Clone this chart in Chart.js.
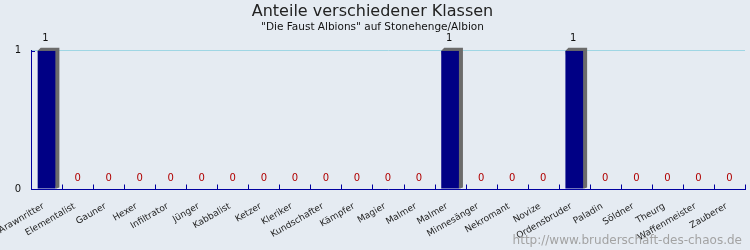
<!DOCTYPE html>
<html lang="de">
<head>
<meta charset="utf-8">
<title>Anteile verschiedener Klassen</title>
<script src="https://cdn.jsdelivr.net/npm/chart.js@4/dist/chart.umd.min.js"></script>
<style>
  html, body { margin: 0; padding: 0; background: #e5ebf2; }
  #wrap { position: relative; width: 750px; height: 250px; }
  #footer {
    position: absolute; right: 8px; bottom: 3px;
    font: 12px "DejaVu Sans", sans-serif; color: #a3a3a3;
  }
</style>
</head>
<body>
<div id="wrap">
  <canvas id="chart" width="750" height="250"></canvas>
  <div id="footer">http://www.bruderschaft-des-chaos.de</div>
</div>
<script>
// Klassen (x-Achse) und Anzahl pro Klasse
const classes = [
  'Arawnritter', 'Elementalist', 'Gauner', 'Hexer', 'Infiltrator', 'Jünger',
  'Kabbalist', 'Ketzer', 'Kleriker', 'Kundschafter', 'Kämpfer', 'Magier',
  'Malmer', 'Malmer', 'Minnesänger', 'Nekromant', 'Novize', 'Ordensbruder',
  'Paladin', 'Söldner', 'Theurg', 'Waffenmeister', 'Zauberer'
];
const counts = [1, 0, 0, 0, 0, 0, 0, 0, 0, 0, 0, 0, 0, 1, 0, 0, 0, 1, 0, 0, 0, 0, 0];
const yTicks = [0, 1];

const FONT = '"DejaVu Sans", sans-serif';
const AXIS_BLUE = '#0000a0';

// grauer 3D-Schatten hinter den Balken, Striche und Werte
const barShadow = {
  id: 'barShadow',
  beforeDatasetsDraw(chart) {
    const ctx = chart.ctx;
    const meta = chart.getDatasetMeta(0);
    ctx.save();
    ctx.fillStyle = '#6b6b6b';
    meta.data.forEach((bar, i) => {
      if (!counts[i]) return;
      const { x, y, base, width } = bar.getProps(['x', 'y', 'base', 'width'], true);
      const l = x - width / 2, r = x + width / 2;
      ctx.beginPath();
      ctx.moveTo(l, y);
      ctx.lineTo(l + 3, y - 3);
      ctx.lineTo(r + 4, y - 3);
      ctx.lineTo(r + 4, base - 1);
      ctx.lineTo(r + 1, base);
      ctx.lineTo(r, base);
      ctx.closePath();
      ctx.fill();
    });
    ctx.restore();
  },
  afterDatasetsDraw(chart) {
    const ctx = chart.ctx;
    const meta = chart.getDatasetMeta(0);
    const xs = chart.scales.x, ys = chart.scales.y;
    ctx.save();
    // kleine Striche nach innen an der x-Achse
    ctx.strokeStyle = AXIS_BLUE;
    ctx.lineWidth = 1;
    const base = Math.round(ys.getPixelForValue(0)) + 0.5;
    for (let i = 1; i <= classes.length; i++) {
      const px = Math.round(i < classes.length
        ? (xs.getPixelForValue(i - 1) + xs.getPixelForValue(i)) / 2
        : xs.right) + 0.5;
      ctx.beginPath();
      ctx.moveTo(px, base);
      ctx.lineTo(px, base - 5);
      ctx.stroke();
    }
    // Strich an der y-Achse bei 1
    const top = Math.round(ys.getPixelForValue(1)) + 0.5;
    ctx.beginPath();
    ctx.moveTo(xs.left, top);
    ctx.lineTo(xs.left + 4, top);
    ctx.stroke();

    // Werte über den Balken
    ctx.font = '10px ' + FONT;
    ctx.textAlign = 'center';
    ctx.textBaseline = 'middle';
    meta.data.forEach((bar, i) => {
      const v = counts[i];
      if (v) {
        ctx.fillStyle = '#111';
        ctx.fillText(String(v), bar.x - 1, bar.y - 12);
      } else {
        ctx.fillStyle = '#b00000';
        ctx.fillText('0', bar.x, bar.base - 11);
      }
    });
    ctx.restore();
  }
};

new Chart(document.getElementById('chart'), {
  type: 'bar',
  data: {
    labels: classes,
    datasets: [{
      data: counts,
      backgroundColor: '#000085',
      borderWidth: 0,
      barPercentage: 0.57,
      categoryPercentage: 1
    }]
  },
  plugins: [barShadow],
  options: {
    responsive: false,
    animation: false,
    layout: { padding: { left: 0, right: 5, top: 0, bottom: 0 } },
    plugins: {
      legend: { display: false },
      tooltip: { enabled: false },
      title: {
        display: true,
        text: 'Anteile verschiedener Klassen',
        color: '#222',
        font: { family: FONT, size: 16, weight: 'normal' },
        padding: { top: 2, bottom: 0 }
      },
      subtitle: {
        display: true,
        text: '"Die Faust Albions" auf Stonehenge/Albion',
        color: '#111',
        font: { family: FONT, size: 10.5 },
        padding: { top: 0, bottom: 17 }
      }
    },
    scales: {
      x: {
        grid: { display: false },
        border: { color: AXIS_BLUE, width: 1 },
        ticks: {
          color: '#222',
          font: { family: FONT, size: 9 },
          minRotation: 30,
          maxRotation: 30,
          autoSkip: false,
          labelOffset: -3,
          padding: 4
        },
        afterFit(scale) {
          scale.height = 61;
          scale.paddingLeft = 0;
          scale.paddingRight = 0;
        }
      },
      y: {
        min: 0,
        max: 1,
        afterBuildTicks(scale) {
          scale.ticks = yTicks.map(v => ({ value: v }));
        },
        grid: {
          drawTicks: false,
          color: c => (c.tick && c.tick.value === 1 ? '#9fd6e4' : 'rgba(0,0,0,0)')
        },
        border: { color: AXIS_BLUE, width: 1 },
        ticks: {
          color: '#111',
          font: { family: FONT, size: 10 },
          padding: 10
        },
        afterFit(scale) {
          scale.width = 31;
        }
      }
    }
  }
});
</script>
</body>
</html>
